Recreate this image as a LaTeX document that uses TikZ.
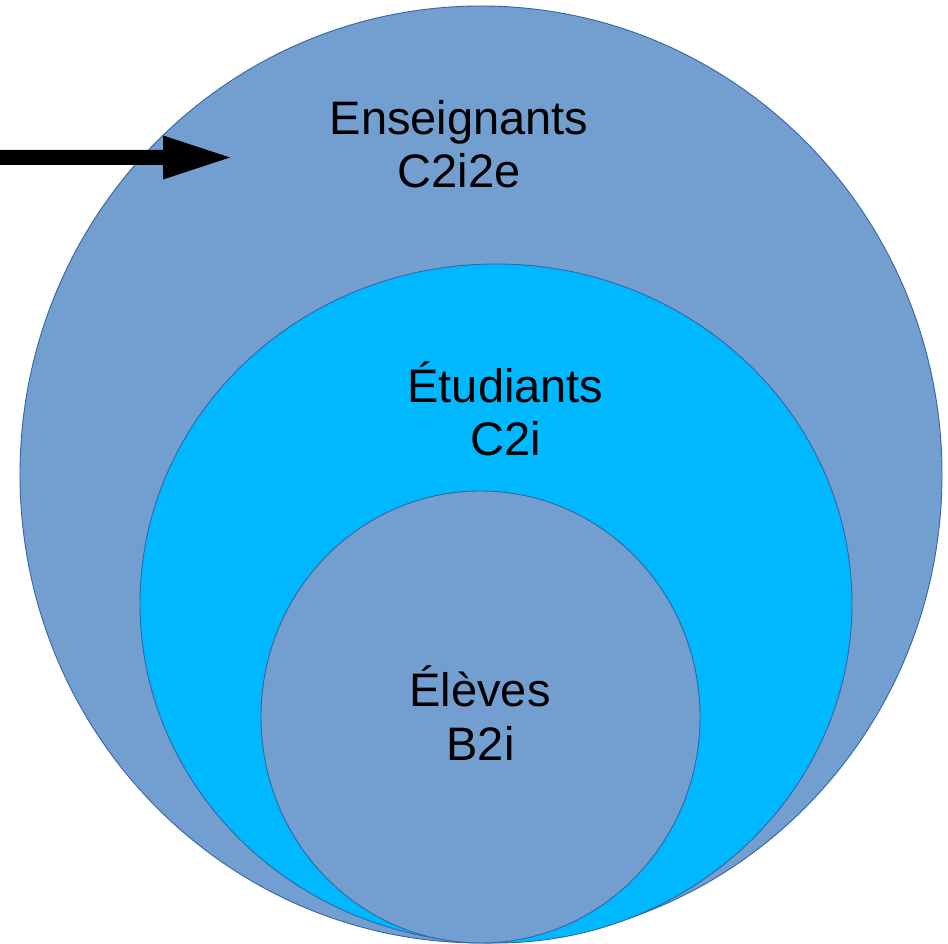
\documentclass[tikz,border=0pt]{standalone}
\usepackage{fontspec}
\setmainfont{Liberation Sans}
\usetikzlibrary{shapes.geometric}
\definecolor{lblue}{HTML}{729FCF}
\definecolor{cyanfill}{HTML}{00B8FF}
\definecolor{edge}{HTML}{3465A4}
\tikzset{
  ring/.style={ellipse, draw=edge, line width=0.9pt, inner sep=0pt},
  lbl/.style={anchor=base, inner sep=0pt, text=black, font=\fontsize{47}{54}\selectfont}
}
\begin{document}
\begin{tikzpicture}[x=1pt,y=1pt]
\useasboundingbox (0,0) rectangle (948,944);
\fill[white] (0,0) rectangle (948,944);
\node[ring, fill=lblue, minimum width=922pt, minimum height=937pt] (outer) at (481,469.5) {};
\node[ring, fill=cyanfill, minimum width=712pt, minimum height=679pt] (middle) at (496,340.5) {};
\node[ring, fill=lblue, minimum width=439pt, minimum height=452pt] (inner) at (480.5,227) {};
% arrow
\coordinate (arrS) at (0,786.5);
\coordinate (arrE) at (230,786.5);
\fill[black] (arrS) ++(0,7.5) -- ++(163,0) -- ++(0,14.5) -- (arrE) -- ++(-67,-22) -- ++(0,14.5) -- ++(-163,0) -- cycle;
% labels
\node[lbl] (ens) at (459,809) {Enseignants};
\node[lbl] (c2i2e) at (459,756) {C2i2e};
\node[lbl] (etu) at (505.5,541.5) {Étudiants};
\node[lbl] (c2i) at (505.5,488) {C2i};
\node[lbl] (ele) at (480,237) {Élèves};
\node[lbl] (b2i) at (480.5,183.5) {B2i};
\end{tikzpicture}
\end{document}
